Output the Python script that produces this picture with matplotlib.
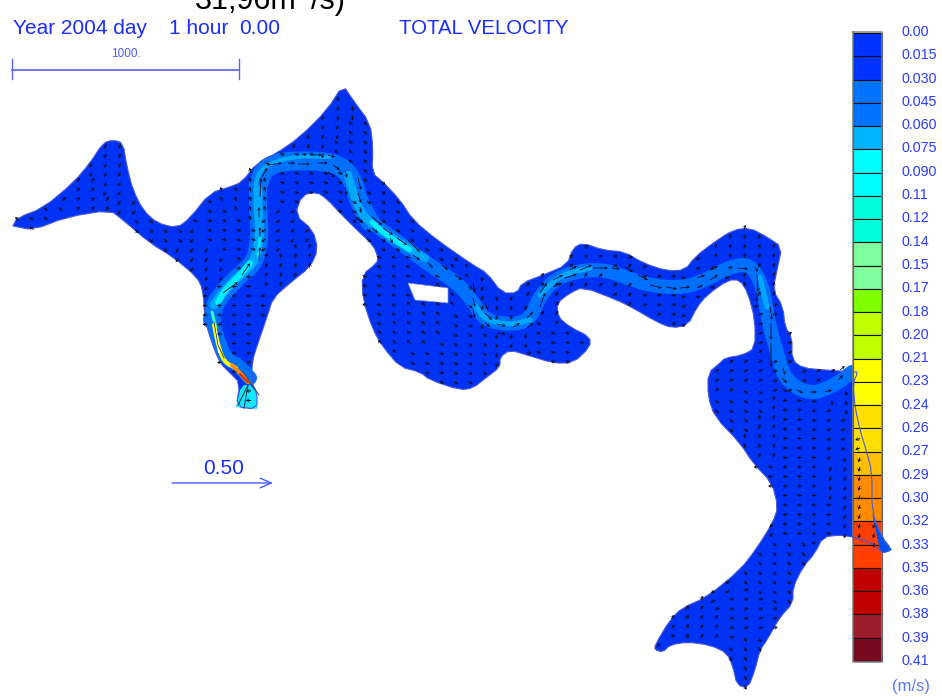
import numpy as np
from matplotlib import pyplot as plt
from matplotlib.path import Path
from matplotlib.patches import Polygon, FancyArrowPatch

plt.rcParams['font.family'] = ['Liberation Sans', 'DejaVu Sans']

# velocity scale
scale_labels = ['0.00', '0.015', '0.030', '0.045', '0.060', '0.075', '0.090', '0.11', '0.12', '0.14',
                '0.15', '0.17', '0.18', '0.20', '0.21', '0.23', '0.24', '0.26', '0.27', '0.29',
                '0.30', '0.32', '0.33', '0.35', '0.36', '0.38', '0.39', '0.41']
scale_colors = ['#0033ff', '#0033ff', '#0073ff', '#0073ff', '#00b4ff', '#00ffff', '#00ffff', '#00ffd8', '#00ffd8',
                '#80ff9e', '#80ff9e', '#80ff00', '#c0ff00', '#c0ff00', '#ffff00', '#ffff00', '#ffe000',
                '#ffe000', '#ffc000', '#ff8c00', '#ff8c00', '#ff4000', '#ff4000', '#c00000', '#c00000',
                '#9b1c2c', '#770a20']

# river outline in image pixels
river_x = [13, 17, 43, 73, 90, 103, 113, 123, 127, 133, 143, 157, 177, 190, 210, 230, 242, 257, 277, 300, 327, 343,
           353, 370, 373, 372, 383, 400, 413, 437, 473, 487, 502, 517, 522, 543, 567, 573, 583, 603, 625, 643, 667,
           685, 695, 713, 733, 750, 767, 782, 777, 773, 783, 785, 792, 792, 803, 825, 853, 858, 853, 855, 860, 867,
           872, 872, 882, 892, 883, 880, 870, 853,
           840, 823, 815, 803, 793, 793, 780, 767, 760, 755, 748, 737, 733, 727, 710, 687, 670, 663, 655, 655, 670,
           682, 707, 740, 757, 773, 778, 772, 753, 740, 715, 708, 708, 720, 725, 743, 755, 755, 748, 740, 728, 707,
           697, 688, 672, 657, 633, 617, 583, 570, 557, 558, 570, 590, 590, 573, 553, 527, 510, 500, 500, 487, 473,
           460, 430, 420,
           400, 383, 373, 363, 362, 377, 378, 373, 357, 340, 328, 317, 302, 295, 313, 318, 310, 290, 273, 267, 258,
           252, 252, 257, 257, 236, 240, 230, 220, 212, 205, 203, 197, 173, 150, 123, 110, 67, 33, 13]
river_y = [226, 218, 208, 183, 163, 143, 140, 143, 167, 190, 210, 223, 228, 218, 193, 187, 182, 163, 153, 137, 110, 85,
           100, 123, 147, 173, 182, 200, 220, 240, 265, 273, 293, 293, 283, 275, 265, 248, 243, 250, 252, 263, 271,
           270, 257, 243, 230, 228, 237, 247, 270, 290, 307, 327, 337, 360, 368, 370, 372, 372, 383, 407, 430, 453,
           473, 513, 537, 550, 553, 550, 542, 537,
           535, 537, 553, 567, 587, 603, 617, 640, 650, 670, 688, 685, 667, 653, 645, 642, 645, 652, 650, 645, 620,
           608, 597, 570, 548, 522, 507, 483, 463, 443, 417, 397, 373, 363, 358, 355, 348, 320, 293, 280, 280, 295,
           307, 325, 328, 322, 308, 300, 287, 293, 303, 317, 327, 337, 347, 363, 363, 355, 350, 357, 367, 377, 388,
           390, 380, 372,
           367, 347, 330, 300, 275, 263, 257, 245, 230, 213, 200, 192, 195, 215, 230, 250, 267, 283, 298, 317, 343,
           362, 383, 393, 409, 407, 383, 373, 363, 343, 320, 290, 277, 257, 243, 220, 210, 217, 230, 226]
hole_x = [408, 448, 448, 415]
hole_y = [283, 288, 303, 300]

# channel centre line
channel_x = [250, 238, 225, 218, 212, 214, 225, 240, 255, 260, 258, 258, 265, 285, 320, 340, 352, 358, 370, 400, 425,
             460, 475, 485, 510, 530, 540, 560, 600, 633, 650, 677, 700, 727, 750, 763, 768, 777, 785, 810, 835, 852]
channel_y = [378, 365, 358, 340, 320, 305, 290, 275, 262, 235, 210, 185, 167, 161, 161, 165, 178, 200, 222, 243, 262,
             285, 305, 320, 325, 320, 295, 275, 268, 280, 285, 288, 283, 268, 263, 287, 320, 353, 380, 395, 385, 372]

# lighter stretches of the channel: (x, y, colour, width in px)
bands = [
    ([214, 225, 240, 255, 260, 258, 258], [305, 290, 275, 262, 235, 210, 190], '#00a8ff', 9),
    ([255, 258, 270, 297, 330], [190, 173, 163, 156, 157], '#00a8ff', 4),
    ([348, 357, 368, 400, 425], [175, 205, 222, 243, 258], '#00a8ff', 8),
    ([475, 485, 510, 530], [305, 320, 325, 320], '#00a8ff', 5),
    ([540, 560, 590], [295, 275, 268], '#00a8ff', 5),
    ([760, 767], [277, 307], '#00a8ff', 5),
    ([218, 225, 240, 250], [302, 290, 275, 263], '#00f0ff', 6),
    ([258, 260], [256, 238], '#00e0ff', 3),
    ([372, 385, 410], [222, 234, 250], '#00f0ff', 5),
    ([212, 216], [312, 328], '#30ffc0', 3),
    ([214, 218, 224, 236], [325, 345, 362, 368], '#ffff00', 4),
    ([232, 240, 248], [365, 373, 382], '#ff8c00', 4),
    ([240, 248], [374, 382], '#e02000', 2),
    ([216, 219], [331, 352], '#ffffff', 2),
]
inlet_x = [240, 236, 257, 257, 250, 244]
inlet_y = [390, 407, 409, 393, 385, 385]

# long arrows in the channel: start and end points
flow_x0 = [223, 242, 259, 260, 259, 260, 262, 268, 288, 298, 317, 333, 302, 313, 328, 328, 345, 358, 358, 360, 345, 355,
           357, 372, 383, 372, 390, 397, 408, 413, 428, 442, 455, 473, 473, 473, 485, 485, 485, 497, 498, 513, 527,
           527, 540, 540, 553, 553, 565, 570, 580, 593, 612, 625, 638, 650, 666, 680, 697, 710, 697, 710, 728, 737,
           755, 757, 757, 770, 771, 771, 783, 782, 782, 797, 810, 825, 838, 840]
flow_y0 = [293, 275, 260, 237, 217, 197, 177, 165, 163, 164, 163, 165, 155, 155, 155, 172, 170, 178, 193, 207, 187, 217,
           217, 217, 228, 228, 238, 238, 240, 255, 263, 265, 275, 283, 298, 310, 303, 313, 323, 324, 333, 327, 318,
           328, 307, 293, 287, 280, 278, 270, 270, 268, 268, 267, 275, 285, 287, 288, 288, 280, 278, 270, 268, 268,
           267, 275, 293, 307, 323, 343, 368, 378, 388, 390, 392, 392, 380, 370]
flow_x1 = [238, 250, 260, 260, 259, 261, 267, 282, 295, 310, 328, 340, 307, 322, 335, 335, 347, 361, 361, 361, 347, 363,
           363, 382, 393, 378, 393, 407, 420, 420, 433, 448, 462, 475, 475, 475, 488, 492, 490, 506, 506, 520, 533,
           533, 545, 547, 562, 563, 577, 577, 592, 608, 620, 633, 648, 662, 677, 690, 703, 718, 705, 718, 733, 748,
           758, 758, 757, 772, 771, 771, 785, 787, 787, 803, 817, 832, 843, 845]
flow_y1 = [282, 263, 247, 227, 207, 178, 168, 163, 163, 164, 163, 170, 154, 155, 157, 177, 178, 190, 203, 213, 195, 223,
           223, 225, 235, 233, 243, 245, 252, 260, 268, 270, 280, 293, 307, 318, 310, 320, 327, 326, 334, 323, 312,
           323, 293, 283, 283, 275, 274, 266, 265, 268, 269, 272, 280, 288, 289, 287, 285, 275, 275, 266, 267, 269,
           272, 292, 302, 320, 340, 367, 375, 383, 392, 393, 392, 390, 375, 366]

# local direction of the slow background arrows, by zone
zone_x = [40, 80, 105, 125, 160, 190, 225, 235, 290, 300, 230, 240, 300, 320, 350, 360, 395, 385, 420, 430, 460, 510,
          520, 560, 575, 610, 660, 700, 730, 735, 790, 825, 845, 740, 770, 800, 830, 860, 770, 800, 740, 715, 690, 740,
          770, 750]
zone_y = [220, 190, 165, 180, 235, 255, 225, 320, 230, 260, 340, 200, 180, 125, 100, 140, 215, 290, 330, 360, 350, 345,
          370, 350, 310, 300, 290, 285, 245, 375, 365, 360, 400, 405, 430, 430, 420, 490, 490, 500, 520, 580, 620, 610,
          570, 660]
zone_u = [-3, 2, -1, -2, 2, -2, 3, -3, -3, 1, -3, -1, 3, -1, 0, -2, 3, -3, -2, 3, 3, -1, 3, -3, 2, 2, 3, -3, 1, 3, 3, 3,
          1, 3, 1, -2, -3, -1, -3, -3, -2, -3, 2, 3, 2, 2]
zone_v = [-2, -3, 3, 3, 2, 3, 1, 0, 2, -3, 0, -3, 1, 3, 3, -2, 2, -1, -2, 1, 2, 3, 0, -1, -3, -2, -1, 1, -3, -2, -1, -2,
          3, 2, -3, 0, 1, 3, 0, 0, 2, 2, -3, -1, 2, 3]
grid_dx = 14.5
grid_dy = 9.5


def corner_cut(xs, ys, closed=False, n=2):
    p = np.column_stack([xs, ys]).astype(float)
    for i in range(n):
        q = np.roll(p, -1, axis=0) if closed else p[1:]
        a = p if closed else p[:-1]
        new = np.empty((2*len(a), 2))
        new[0::2] = 0.75*a + 0.25*q
        new[1::2] = 0.25*a + 0.75*q
        p = new if closed else np.vstack([p[:1], new, p[-1:]])
    return p


fig = plt.figure(figsize=(9.42, 6.96), dpi=100)
ax = fig.add_axes([0, 0, 1, 1])
ax.set_xlim(0, 942)
ax.set_ylim(696, 0)
ax.axis('off')

raw = np.column_stack([river_x, river_y])
outline = corner_cut(river_x, river_y, closed=True, n=1)
hole = np.column_stack([hole_x, hole_y])
ax.add_patch(Polygon(outline, closed=True, fc='#0033f5', ec='none', zorder=1))
ax.add_patch(Polygon(hole, closed=True, fc='white', ec='#8090c0', lw=0.5, zorder=3))

# channel layers, widths given in pixels
smooth = corner_cut(channel_x, channel_y)
ax.plot(smooth[:, 0], smooth[:, 1], c='#0070ff', lw=14*0.72, solid_capstyle='round', zorder=2)
left_reach = corner_cut(channel_x[4:12], channel_y[4:12])
ax.plot(left_reach[:, 0], left_reach[:, 1], c='#0070ff', lw=18*0.72, solid_capstyle='round', zorder=2)
top_reach = corner_cut(channel_x[11:19], channel_y[11:19])
ax.plot(top_reach[:, 0], top_reach[:, 1], c='#0070ff', lw=19*0.72, solid_capstyle='round', zorder=2)
ax.add_patch(Polygon(np.column_stack([inlet_x, inlet_y]), closed=True, fc='#10e8ff', ec='none', zorder=2))
for bx, by, col, w in bands:
    b = corner_cut(bx, by)
    ax.plot(b[:, 0], b[:, 1], c=col, lw=w*0.72, solid_capstyle='round', zorder=3)

# legend column
edges = np.linspace(33, 661, len(scale_colors) + 1)
ax.barh(edges[:-1], 29, height=np.diff(edges), left=853, align='edge', color=scale_colors, edgecolor='#101010',
        linewidth=0.8, zorder=4)
ax.plot([853, 882, 882, 853, 853], [32, 32, 662, 662, 32], c='#808080', lw=1.1, zorder=5)
label_y = np.linspace(32, 661, len(scale_labels))
for lab, yy in zip(scale_labels, label_y):
    ax.text(902, yy, lab, color='#2a3cff', fontsize=10.3, va='center', ha='left', zorder=8)
ax.text(892, 687, '(m/s)', color='#5a78ff', fontsize=12, va='center', ha='left', zorder=8)

# outline goes over the legend column
ax.add_patch(Polygon(outline, closed=True, fc='none', ec='#4a58d8', lw=0.8, zorder=6))
# tip of the river to the right of the column
tip = raw[(raw[:, 0] >= 872) & (raw[:, 1] > 500)]
ax.add_patch(Polygon(tip, closed=True, fc='#0050f0', ec='none', zorder=5))

# background arrows on the mesh
gx, gy = np.meshgrid(np.arange(19, 890, grid_dx), np.arange(87, 690, grid_dy))
pts = np.column_stack([gx.ravel(), gy.ravel()])
inside = Path(raw).contains_points(pts)
inside &= ~Path(hole).contains_points(pts)
pts = pts[inside]
fine = corner_cut(channel_x, channel_y, n=3)
d_chan = np.min(np.hypot(pts[:, 0, None] - fine[:, 0], pts[:, 1, None] - fine[:, 1]), axis=1)
pts = pts[d_chan > 5]
zx = np.array(zone_x, dtype=float)
zy = np.array(zone_y, dtype=float)
nearest = np.argmin(np.hypot(pts[:, 0, None] - zx, pts[:, 1, None] - zy), axis=1)
u = np.array(zone_u, dtype=float)[nearest]
v = np.array(zone_v, dtype=float)[nearest]
norm = np.hypot(u, v)
u = u/norm*5.0
v = v/norm*5.0
ax.quiver(pts[:, 0], pts[:, 1], u, v, angles='xy', scale_units='xy', scale=1, units='xy', width=1.0, headwidth=5,
          headlength=4, headaxislength=2.2, color='#0a0a1e', zorder=7)

# long channel arrows
x0 = np.array(flow_x0, dtype=float)
y0 = np.array(flow_y0, dtype=float)
ax.quiver(x0, y0, np.array(flow_x1) - x0, np.array(flow_y1) - y0, angles='xy', scale_units='xy', scale=1, units='xy',
          width=0.8, headwidth=5, headlength=5, headaxislength=3, color='#06061a', zorder=7)

# inlet lines
ax.plot([248, 244], [385, 408], c='#204050', lw=0.8, zorder=7)
ax.plot([248, 238], [385, 405], c='#204050', lw=0.8, zorder=7)
ax.plot([243, 259], [372, 395], c='#505060', lw=0.8, zorder=7)
ax.plot([214, 218, 224], [322, 345, 358], c='#303030', lw=0.6, zorder=7)

# header text
ax.text(195, 9, '31,96m', color='black', fontsize=22, va='baseline', ha='left', zorder=9)
ax.text(311, 9, '/s)', color='black', fontsize=22, va='baseline', ha='left', zorder=9)
ax.text(13, 28.5, 'Year 2004 day', color='#1a2eff', fontsize=15, va='center', ha='left')
ax.text(169, 28.5, '1 hour', color='#1a2eff', fontsize=15, va='center', ha='left')
ax.text(239, 28.5, '0.00', color='#1a2eff', fontsize=15, va='center', ha='left')
ax.text(399, 28.5, 'TOTAL VELOCITY', color='#1a2eff', fontsize=14.7, va='center', ha='left')

# length scale
ax.plot([12, 239], [70, 70], c='#5a64ff', lw=1.2)
ax.plot([12, 12], [59, 79], c='#5a64ff', lw=1.0)
ax.plot([239, 239], [59, 79], c='#5a64ff', lw=1.0)
ax.text(126, 54, '1000.', color='#4a5aff', fontsize=8.5, va='center', ha='center')

# velocity reference arrow
ax.text(224, 469, '0.50', color='#1a2eff', fontsize=15, va='center', ha='center')
ax.add_patch(FancyArrowPatch((172, 483), (273, 483), arrowstyle='->,head_length=8,head_width=3.5', shrinkA=0, shrinkB=0,
                             color='#4a5aff', lw=1.0, mutation_scale=1))

fig.savefig('out.png', dpi=100)
